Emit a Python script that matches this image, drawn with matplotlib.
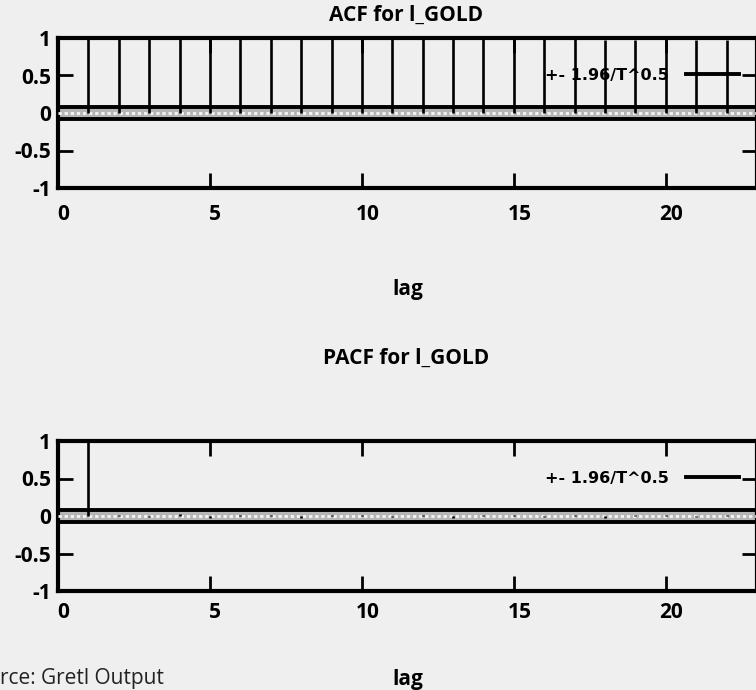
import matplotlib
matplotlib.use("Agg")
import matplotlib.pyplot as plt

# ---- data ----
lags = list(range(1, 23))
acf_vals = [0.996, 0.995, 0.994, 0.993, 0.992, 0.991, 0.990, 0.989, 0.988, 0.987, 0.986,
            0.985, 0.984, 0.983, 0.982, 0.981, 0.980, 0.979, 0.978, 0.977, 0.976, 0.975]
pacf_vals = [0.996, 0.02, -0.01, 0.03, -0.02, 0.01, 0.02, -0.03, 0.01, 0.02, -0.01,
             0.01, -0.02, 0.02, 0.01, -0.01, 0.02, -0.02, 0.01, 0.01, -0.01, 0.02]
band = 0.075
xticks = [0, 5, 10, 15, 20]
yticks = [-1, -0.5, 0, 0.5, 1]
ytick_labels = ["-1", "-0.5", "0", "0.5", "1"]
titles = ["ACF for l_GOLD", "PACF for l_GOLD"]
legend_label = "+- 1.96/T^0.5"
source_text = "rce: Gretl Output"

BG = "#efefef"
W, H = 756, 690
fig = plt.figure(figsize=(W / 100, H / 100), dpi=100, facecolor=BG)

font_main = ["Open Sans", "DejaVu Sans"]
FS = 15

def fx(px):
    return px / W

def fy(py):
    return 1 - py / H

panels = [
    (acf_vals, 38, 188, 15, 214, 290),
    (pacf_vals, 441, 591, 358, 613, 679),
]

for (vals, top, bot, ty, xl_y, lag_y), title in zip(panels, titles):
    ax = fig.add_axes([fx(58), fy(bot), fx(757) - fx(58), fy(top) - fy(bot)])
    ax.set_facecolor(BG)
    ax.set_xlim(0, 23)
    ax.set_ylim(-1, 1)
    # impulses
    ax.vlines(lags, 0, vals, colors="black", linewidth=1.9, zorder=4)
    # confidence band
    ax.fill_between([0, 23], -band, band, color="#b5b5b5", zorder=2, linewidth=0)
    ax.axhline(0, color="#f4f4f4", linewidth=2.0, linestyle=(0, (1.2, 1.0)), zorder=3)
    ax.axhline(band, color="black", linewidth=2.8, zorder=3, label=legend_label)
    ax.axhline(-band, color="black", linewidth=2.8, zorder=3)
    leg = ax.legend(loc="center right", bbox_to_anchor=(0.974, 0.75), frameon=False,
                    markerfirst=False, handlelength=3.3, handletextpad=1.1,
                    borderaxespad=0.0, borderpad=0.0,
                    prop={"family": ["DejaVu Sans"], "weight": "bold", "size": 11.5})
    for line in leg.get_lines():
        line.set_linewidth(2.8)
    leg.set_zorder(1)
    for sp in ax.spines.values():
        sp.set_linewidth(3.0)
    ax.set_xticks(xticks)
    ax.set_yticks(yticks)
    ax.set_xticklabels([])
    ax.set_yticklabels(ytick_labels)
    ax.tick_params(direction="in", length=11, width=2, top=True, right=True,
                   labelsize=FS, pad=5)
    for lab in ax.get_yticklabels():
        lab.set_fontweight("bold")
        lab.set_family(font_main)
    # x tick labels placed below the axis
    yoff = -1 - (xl_y - bot) / ((bot - top) / 2)
    for xv in xticks:
        ax.text(xv + 0.18, yoff, str(xv), transform=ax.transData, ha="center",
                va="center", fontsize=FS, fontweight="bold", family=font_main,
                clip_on=False)
    fig.text(fx(406), fy(ty), title, ha="center", va="center", fontsize=FS,
             fontweight="bold", family=font_main)
    fig.text(fx(408), fy(lag_y), "lag", ha="center", va="center", fontsize=FS,
             fontweight="bold", family=font_main)

fig.text(fx(0), fy(689), source_text, ha="left", va="bottom",
         fontsize=15, family=["Open Sans", "DejaVu Sans"], color="#222222")

fig.savefig("out.png", dpi=100, facecolor=BG)
